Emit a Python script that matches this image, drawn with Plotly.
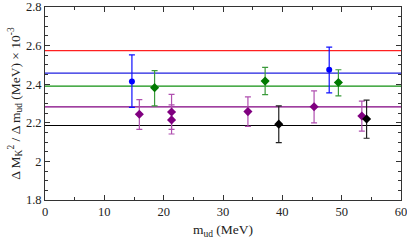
import plotly.graph_objects as go

# Horizontal reference lines
line_values = [2.574, 2.457, 2.390, 2.283, 2.186]
line_colors = ["#ff2020", "#2020e0", "#109010", "#800080", "#000000"]

# Data points (x, y, err_plus, err_minus)
blue_x = [14.65, 47.9]
blue_y = [2.414, 2.475]
blue_up = [0.138, 0.117]
blue_dn = [0.134, 0.120]

green_x = [18.47, 37.1, 49.45]
green_y = [2.382, 2.416, 2.409]
green_up = [0.088, 0.071, 0.066]
green_dn = [0.094, 0.070, 0.069]

purple_x = [15.9, 21.33, 21.33, 34.2, 45.35, 53.4]
purple_y = [2.244, 2.256, 2.215, 2.258, 2.283, 2.235]
purple_up = [0.076, 0.091, 0.078, 0.076, 0.082, 0.077]
purple_dn = [0.078, 0.090, 0.073, 0.077, 0.083, 0.078]

black_x = [39.4, 54.2]
black_y = [2.193, 2.220]
black_up = [0.095, 0.097]
black_dn = [0.096, 0.100]

fig = go.Figure()

for v, c in zip(line_values, line_colors):
    fig.add_trace(go.Scatter(x=[0, 60], y=[v, v], mode="lines",
                             line=dict(color=c, width=1.2), showlegend=False,
                             hoverinfo="skip"))

def add_pts(xs, ys, up, dn, color, ecolor, symbol, size):
    fig.add_trace(go.Scatter(
        x=xs, y=ys, mode="markers",
        marker=dict(color=color, symbol=symbol, size=size),
        error_y=dict(type="data", symmetric=False, array=up, arrayminus=dn,
                     color=ecolor, thickness=1.2, width=3),
        showlegend=False))

add_pts(blue_x, blue_y, blue_up, blue_dn, "#0000ff", "#1010ff", "circle", 6)
add_pts(green_x, green_y, green_up, green_dn, "#007a00", "#3a9a3a", "diamond", 7)
add_pts(purple_x, purple_y, purple_up, purple_dn, "#800080", "#b050b0", "diamond", 7)
add_pts(black_x, black_y, black_up, black_dn, "#000000", "#202020", "diamond", 7)

font = dict(family="Liberation Serif, Times New Roman, serif", size=12.5, color="#222")
title_font = dict(family="Liberation Serif, Times New Roman, serif", size=13.5, color="#222")

axis_common = dict(showline=True, linecolor="#333", linewidth=1, mirror="ticks",
                   ticks="inside", ticklen=5, tickcolor="#333", showgrid=False,
                   zeroline=False, tickfont=font, automargin=False,
                   ticklabeloverflow="allow")

fig.update_xaxes(range=[0, 60], tickvals=[0, 10, 20, 30, 40, 50, 60],
                 minor=dict(ticks="inside", ticklen=3, dtick=5, tickcolor="#333"),
                 title=dict(text="m<sub>ud</sub> (MeV)", font=title_font, standoff=6),
                 **axis_common)
fig.update_yaxes(range=[1.8, 2.8], tickvals=[1.8, 2.0, 2.2, 2.4, 2.6, 2.8],
                 ticktext=["1.8", "2", "2.2", "2.4", "2.6", "2.8"],
                 minor=dict(ticks="inside", ticklen=3, dtick=0.05, tickcolor="#333"),
                 title=dict(text="Δ M<sub>K</sub><sup>2</sup> / Δ m<sub>ud</sub> (MeV) × 10<sup>-3</sup>",
                            font=title_font, standoff=2),
                 **axis_common)

fig.update_layout(width=407, height=245,
                  margin=dict(l=45, r=6, t=7, b=45),
                  plot_bgcolor="white", paper_bgcolor="white",
                  font=font)

fig.write_html("out.html", config={"displayModeBar": False},
               post_script="document.body.style.margin='0';document.body.style.padding='0';")
